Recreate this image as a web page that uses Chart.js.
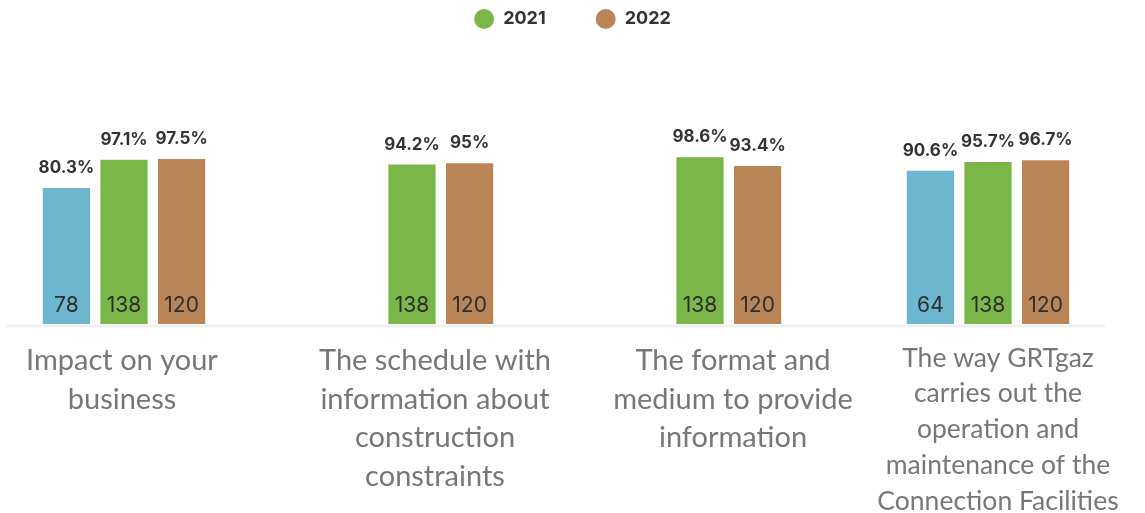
<!DOCTYPE html>
<html>
<head>
<meta charset="utf-8">
<script src="https://cdn.jsdelivr.net/npm/chart.js@4.4.1/dist/chart.umd.min.js"></script>
<style>
  html, body { margin: 0; padding: 0; background: #fff; }
  #wrap { width: 1145px; height: 513px; }
</style>
</head>
<body>
<div id="wrap"><canvas id="chart"></canvas></div>
<script>
// === Datos ===
const categorias = [
    ['Impact on your', 'business'],
    ['The schedule with', 'information about', 'construction', 'constraints'],
    ['The format and', 'medium to provide', 'information'],
    ['The way GRTgaz', 'carries out the', 'operation and', 'maintenance of the', 'Connection Facilities']
];
const etiquetasSeries = ['2020', '2021', '2022'];
const valores2020 = [80.3, null, null, 90.6];
const valores2021 = [97.1, 94.2, 98.6, 95.7];
const valores2022 = [97.5, 95, 93.4, 96.7];
const n2020 = [78, null, null, 64];
const n2021 = [138, 138, 138, 138];
const n2022 = [120, 120, 120, 120];

const colores = ['#6db6cf', '#7ab648', '#b98557'];
const conteos = [n2020, n2021, n2022];
// las cajas de texto del original no estan centradas bajo cada grupo
const desfaseEtiquetas = [-2, 23, 33, 10];

// linea base gris clara bajo las barras
const lineaBase = {
    id: 'lineaBase',
    beforeDatasetsDraw(chart) {
        const ctx = chart.ctx;
        const y = chart.scales.y.getPixelForValue(0);
        ctx.save();
        ctx.strokeStyle = '#f1f1f1';
        ctx.lineWidth = 3;
        ctx.beginPath();
        ctx.moveTo(6, y + 2);
        ctx.lineTo(1105, y + 2);
        ctx.stroke();
        ctx.restore();
    }
};

// etiquetas: porcentaje arriba, n abajo dentro de la barra
const etiquetas = {
    id: 'etiquetas',
    afterDatasetsDraw(chart) {
        const ctx = chart.ctx;
        ctx.save();
        ctx.textAlign = 'center';
        ctx.textBaseline = 'alphabetic';
        chart.data.datasets.forEach((ds, i) => {
            const meta = chart.getDatasetMeta(i);
            meta.data.forEach((bar, j) => {
                const v = ds.data[j];
                if (v === null) return;
                ctx.fillStyle = '#333';
                ctx.font = 'bold 17px Inter';
                ctx.fillText(v + '%', bar.x, bar.y - 15);
                ctx.font = '21px Inter';
                ctx.fillStyle = '#2e2e2e';
                ctx.fillText(conteos[i][j], bar.x, bar.base - 12);
            });
        });
        ctx.restore();
    }
};

// textos de categoria bajo el eje
const etiquetasEje = {
    id: 'etiquetasEje',
    afterDraw(chart) {
        const ctx = chart.ctx;
        const x = chart.scales.x;
        const base = chart.scales.y.getPixelForValue(0);
        ctx.save();
        ctx.fillStyle = '#777';
        ctx.textAlign = 'center';
        ctx.textBaseline = 'middle';
        categorias.forEach((lineas, i) => {
            const chico = lineas.length > 4;
            const alto = chico ? 35.75 : 38.5;
            const y0 = base + (chico ? 34 : 37);
            ctx.font = (chico ? 26.5 : 29) + 'px Lato';
            lineas.forEach((t, k) => {
                ctx.fillText(t, x.getPixelForValue(i) + desfaseEtiquetas[i], y0 + k * alto);
            });
        });
        ctx.restore();
    }
};

// ejes vacios a los lados para dejar la leyenda centrada en todo el ancho
const ejeVacio = (pos, ancho) => ({
    position: pos,
    display: true,
    ticks: { display: false },
    grid: { display: false },
    border: { display: false },
    afterFit(s) { s.width = ancho; }
});

const ctx = document.getElementById('chart').getContext('2d');
new Chart(ctx, {
    type: 'bar',
    data: {
        labels: categorias,
        datasets: [valores2020, valores2021, valores2022].map((d, i) => ({
            label: etiquetasSeries[i],
            data: d,
            backgroundColor: colores[i],
            categoryPercentage: 0.6,
            barPercentage: 0.82,
            clip: false
        }))
    },
    options: {
        responsive: true,
        maintainAspectRatio: false,
        animation: false,
        layout: { padding: { left: 0, right: 0, top: -40, bottom: 189 } },
        plugins: {
            tooltip: { enabled: false },
            legend: {
                position: 'top',
                labels: {
                    filter: item => item.text !== '2020',
                    usePointStyle: true,
                    pointStyle: 'circle',
                    boxHeight: 14,
                    pointStyleWidth: 20,
                    padding: 50,
                    color: '#333',
                    font: { family: 'Inter', size: 18, weight: 'bold' }
                }
            }
        },
        scales: {
            x: {
                display: false,
                offset: false
            },
            y: Object.assign(ejeVacio('left', 124), { min: 0, max: 169 }),
            yDer: ejeVacio('right', 157)
        }
    },
    plugins: [lineaBase, etiquetas, etiquetasEje]
});
</script>
</body>
</html>
